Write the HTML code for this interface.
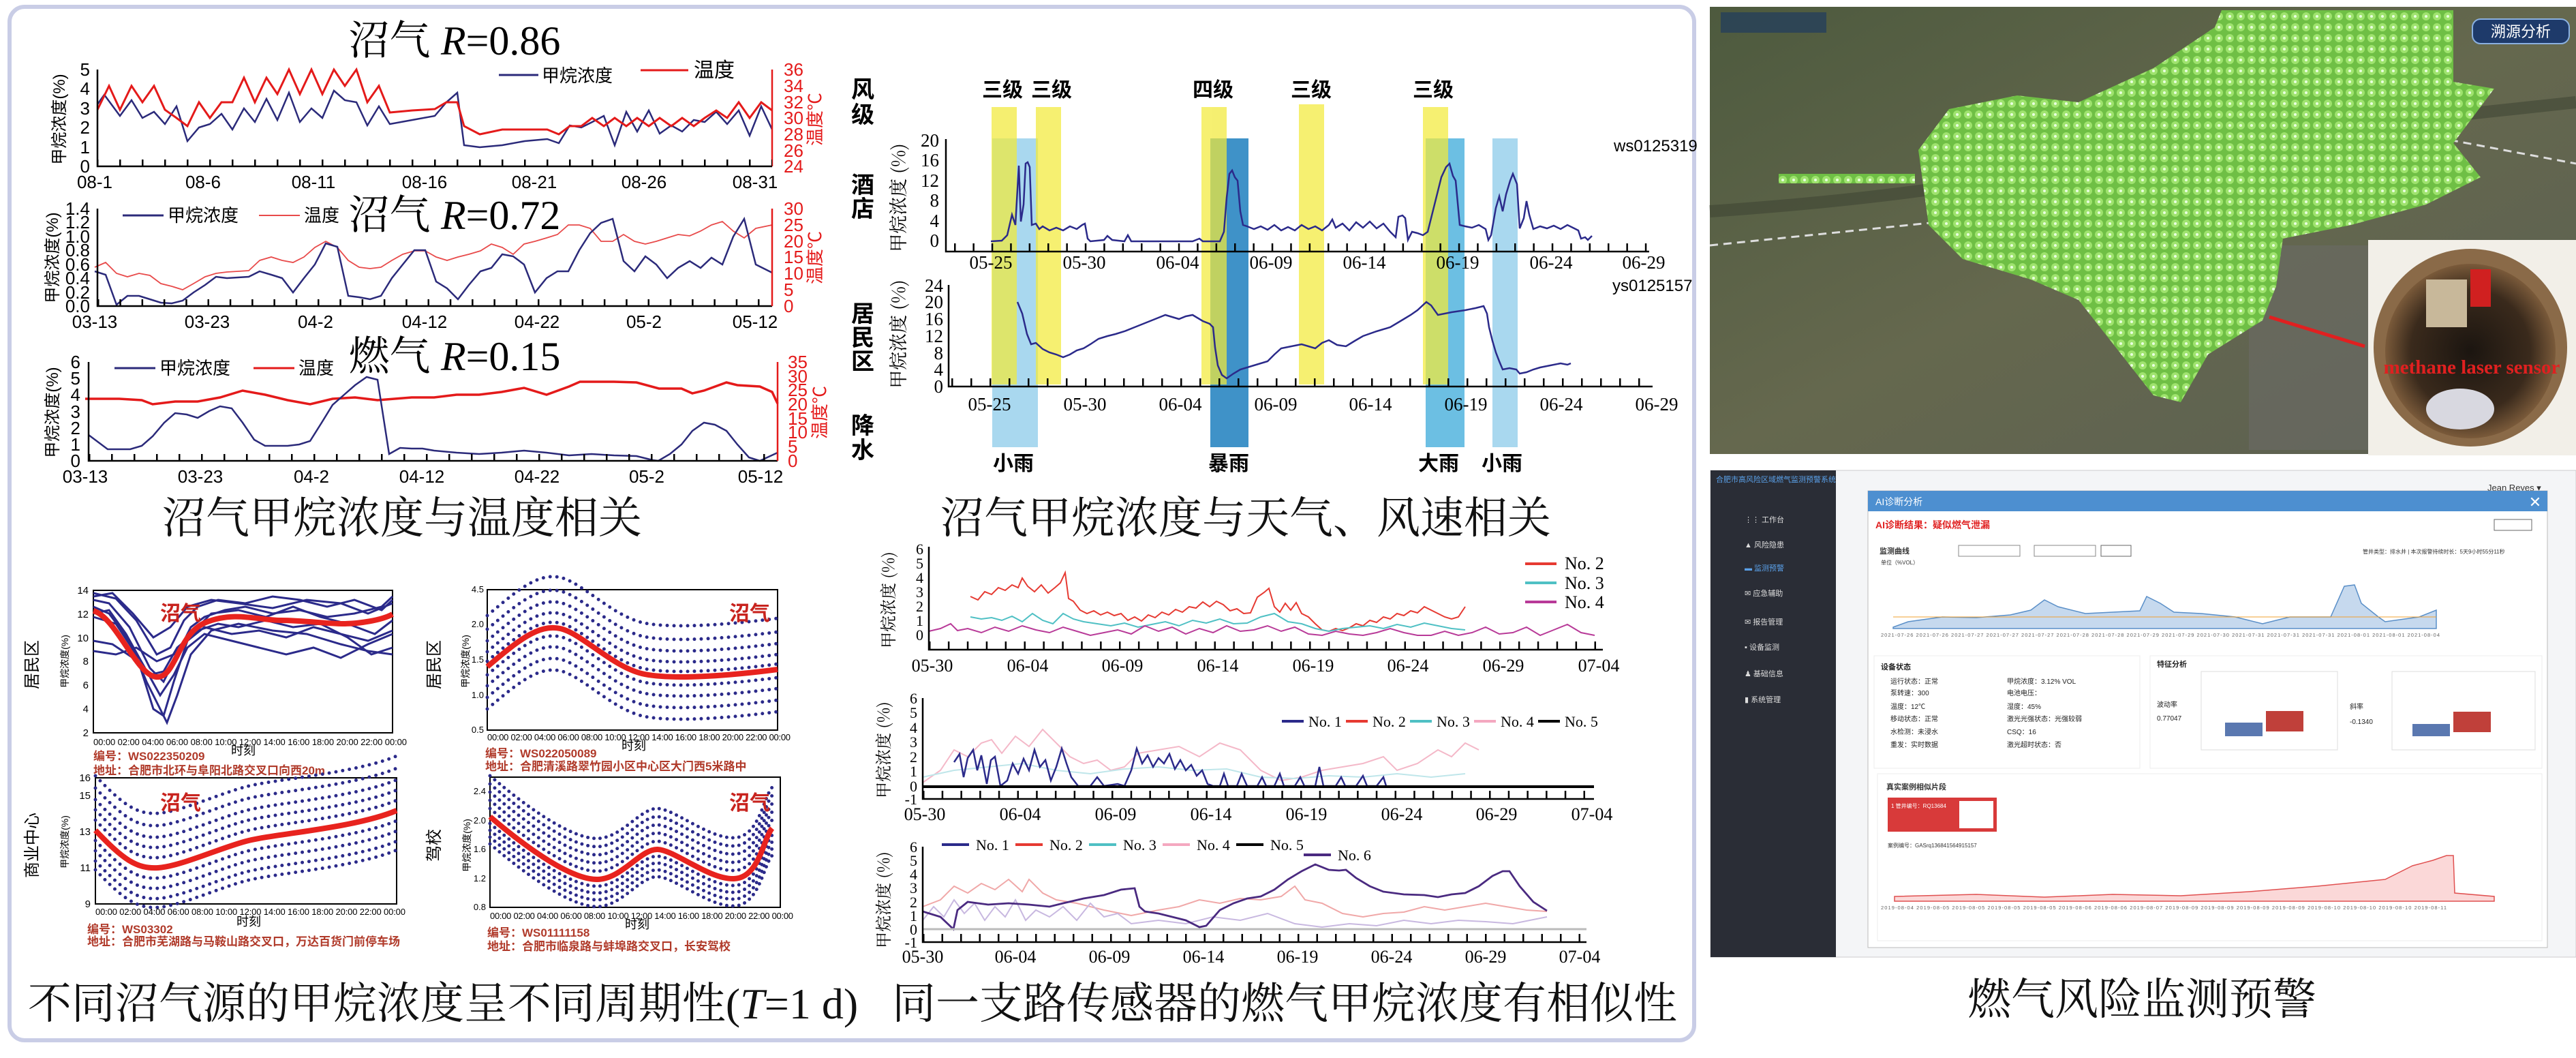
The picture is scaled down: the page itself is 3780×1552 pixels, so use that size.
<!DOCTYPE html>
<html><head><meta charset="utf-8"><style>
html,body{margin:0;padding:0;background:#fff;}
svg{display:block;}
.t{font-family:"Liberation Sans","Noto Sans CJK SC",sans-serif;}
.s{font-family:"Liberation Serif","Noto Serif CJK SC",serif;}
.cap{font-family:"Liberation Serif","Noto Serif CJK SC",serif;font-size:64px;fill:#111;}
</style></head><body>
<svg width="3780" height="1552" viewBox="0 0 3780 1552" xmlns="http://www.w3.org/2000/svg">
<defs>
<pattern id="dots" width="16" height="16" patternUnits="userSpaceOnUse">
<rect width="16" height="16" fill="#6fbf45"/><circle cx="8" cy="8" r="6" fill="#9fe36e"/><circle cx="8" cy="8" r="2" fill="#e8ffe0"/>
</pattern>
<linearGradient id="sat" x1="0" y1="0" x2="1" y2="1"><stop offset="0" stop-color="#4d5a3e"/><stop offset="0.5" stop-color="#65684e"/><stop offset="1" stop-color="#5b5f52"/></linearGradient>
<radialGradient id="hole" cx="0.5" cy="0.5" r="0.5"><stop offset="0" stop-color="#1b1510"/><stop offset="0.7" stop-color="#3a2a1c"/><stop offset="1" stop-color="#7a5a3a"/></radialGradient>
<path id="pB" d="M715,978 C760,940 790,915 822,922 S900,980 946,989 S1080,990 1141,982"/>
<path id="pC" d="M140,1218 C180,1260 200,1275 232,1273 S320,1245 361,1234 S520,1215 582,1189"/>
<path id="pD" d="M719,1198 C780,1250 840,1290 876,1290 S940,1245 965,1246 S1040,1290 1077,1289 S1120,1230 1133,1215"/>
</defs>

<!-- left panel -->
<rect x="14" y="10" width="2472" height="1516" rx="22" fill="#fff" stroke="#c9cde6" stroke-width="6"/>

<!-- ===== Chart 1 ===== -->
<text x="667" y="80" text-anchor="middle" class="s" font-size="60"><tspan font-family="Noto Serif CJK SC">沼气 </tspan><tspan font-style="italic">R</tspan>=0.86</text>
<g class="t" font-size="26">
<polyline fill="none" stroke="#2b2a7a" stroke-width="2.5" points="143,153 153,139 176,170 193,147 209,173 226,164 242,182 259,156 275,207 292,187 308,182 325,167 341,190 358,159 374,179 391,145 407,176 424,136 440,179 457,159 473,173 490,133 506,147 523,150 539,184 556,156 572,182 605,176 638,170 655,150 671,136 681,213 704,216 737,213 770,207 803,204 820,210 836,184 853,187 869,179 886,170 902,213 919,164 935,193 952,162 968,196 985,184 1001,193 1018,176 1034,179 1051,164 1067,182 1084,162 1100,199 1117,156 1133,190"/>
<polyline fill="none" stroke="#e41a1a" stroke-width="3" points="143,161 160,126 176,161 193,126 209,150 226,126 242,161 259,173 275,185 292,150 308,173 325,150 341,150 358,114 374,150 391,114 407,138 424,102 440,138 457,102 473,138 490,102 506,126 523,102 539,150 556,126 572,165 605,162 638,160 655,150 671,150 681,185 704,197 737,190 770,190 803,190 820,197 836,185 853,185 869,173 886,185 902,173 919,185 935,173 952,185 968,173 985,185 1001,173 1018,185 1034,173 1051,162 1067,173 1084,150 1100,173 1117,150 1133,162"/>
<path d="M143,102 V244 H1133" fill="none" stroke="#000" stroke-width="2.5"/>
<path d="M1133,102 V244" stroke="#e41a1a" stroke-width="2.5"/>
<line x1="143" y1="239" x2="1133" y2="239" stroke="#000" stroke-width="10" stroke-dasharray="2.5 30.5" stroke-dashoffset="-32"/>
<g text-anchor="end"><text x="132" y="253">0</text><text x="132" y="225">1</text><text x="132" y="196">2</text><text x="132" y="168">3</text><text x="132" y="139">4</text><text x="132" y="111">5</text></g>
<g fill="#e41a1a"><text x="1150" y="253">24</text><text x="1150" y="230">26</text><text x="1150" y="206">28</text><text x="1150" y="182">30</text><text x="1150" y="159">32</text><text x="1150" y="135">34</text><text x="1150" y="111">36</text>
<text transform="translate(1205,175) rotate(-90)" text-anchor="middle">温度℃</text></g>
<text transform="translate(95,175) rotate(-90)" text-anchor="middle" font-size="24">甲烷浓度(%)</text>
<g text-anchor="middle"><text x="139" y="276">08-1</text><text x="298" y="276">08-6</text><text x="460" y="276">08-11</text><text x="623" y="276">08-16</text><text x="784" y="276">08-21</text><text x="945" y="276">08-26</text><text x="1108" y="276">08-31</text></g>
<line x1="732" y1="110" x2="790" y2="110" stroke="#2b2a7a" stroke-width="3"/><text x="795" y="120">甲烷浓度</text>
<line x1="940" y1="103" x2="1010" y2="103" stroke="#e41a1a" stroke-width="3"/><text x="1018" y="113" font-size="30">温度</text>
</g>

<!-- ===== Chart 2 ===== -->
<text x="667" y="336" text-anchor="middle" class="s" font-size="60"><tspan font-family="Noto Serif CJK SC">沼气 </tspan><tspan font-style="italic">R</tspan>=0.72</text>
<g class="t" font-size="26">
<polyline fill="none" stroke="#e84a4a" stroke-width="1.8" points="139,392 155,385 171,401 187,406 204,401 220,404 236,416 252,420 268,425 284,416 301,406 317,401 333,399 365,397 381,382 398,377 414,382 430,385 446,377 462,363 478,354 495,363 511,382 527,392 543,394 559,392 575,382 591,373 608,368 624,368 640,377 656,382 672,377 688,373 705,368 721,358 737,363 753,373 769,358 785,354 802,349 818,344 834,330 850,330 866,335 882,354 899,354 915,344 931,354 947,358 963,354 979,349 995,344 1012,346 1028,339 1044,330 1060,325 1076,339 1092,349 1109,335 1133,330"/>
<polyline fill="none" stroke="#2b2a7a" stroke-width="2.5" points="139,398 155,403 171,447 187,434 204,434 220,439 236,444 252,445 268,441 284,429 301,418 317,406 333,408 365,406 381,398 398,403 414,408 430,429 446,408 462,388 478,357 495,362 511,434 527,436 543,439 559,434 575,408 591,388 608,367 624,367 640,413 656,423 672,439 688,418 705,398 721,393 737,373 753,376 769,388 785,429 802,408 818,398 834,398 850,367 866,342 882,327 899,321 915,383 931,398 947,376 963,388 979,408 995,393 1012,383 1028,393 1044,378 1060,388 1076,347 1092,321 1109,388 1133,400"/>
<path d="M143,306 V449 H1133" fill="none" stroke="#000" stroke-width="2.5"/>
<path d="M1133,306 V449" stroke="#e41a1a" stroke-width="2.5"/>
<line x1="143" y1="444" x2="1133" y2="444" stroke="#000" stroke-width="10" stroke-dasharray="2.5 29.8"/>
<g text-anchor="end"><text x="132" y="458">0.0</text><text x="132" y="438">0.2</text><text x="132" y="417">0.4</text><text x="132" y="397">0.6</text><text x="132" y="376">0.8</text><text x="132" y="356">1.0</text><text x="132" y="335">1.2</text><text x="132" y="315">1.4</text></g>
<g fill="#e41a1a"><text x="1150" y="458">0</text><text x="1150" y="434">5</text><text x="1150" y="410">10</text><text x="1150" y="386">15</text><text x="1150" y="363">20</text><text x="1150" y="339">25</text><text x="1150" y="315">30</text>
<text transform="translate(1205,378) rotate(-90)" text-anchor="middle">温度℃</text></g>
<text transform="translate(85,378) rotate(-90)" text-anchor="middle" font-size="24">甲烷浓度(%)</text>
<g text-anchor="middle"><text x="139" y="481">03-13</text><text x="304" y="481">03-23</text><text x="463" y="481">04-2</text><text x="623" y="481">04-12</text><text x="788" y="481">04-22</text><text x="945" y="481">05-2</text><text x="1108" y="481">05-12</text></g>
<line x1="180" y1="316" x2="240" y2="316" stroke="#2b2a7a" stroke-width="3"/><text x="246" y="325">甲烷浓度</text>
<line x1="380" y1="316" x2="440" y2="316" stroke="#e84a4a" stroke-width="2"/><text x="446" y="325">温度</text>
</g>

<!-- ===== Chart 3 ===== -->
<text x="667" y="543" text-anchor="middle" class="s" font-size="60"><tspan font-family="Noto Serif CJK SC">燃气 </tspan><tspan font-style="italic">R</tspan>=0.15</text>
<g class="t" font-size="26">
<polyline fill="none" stroke="#e41a1a" stroke-width="3.5" points="125,585 175,585 208,587 224,593 257,589 290,589 323,583 356,573 389,579 422,587 455,593 488,585 521,583 554,587 604,583 637,583 670,579 703,579 736,575 769,569 802,579 835,567 851,560 868,560 901,560 934,561 967,570 1000,570 1016,577 1033,573 1066,561 1082,565 1115,567 1133,575 1141,592"/>
<polyline fill="none" stroke="#2b2a7a" stroke-width="2.5" points="130,638 142,647 158,659 175,659 191,659 208,654 224,640 241,620 257,606 274,608 290,613 307,603 323,596 340,599 356,620 373,645 389,654 406,654 422,654 439,652 455,647 472,620 488,594 505,579 521,565 538,553 554,557 571,666 587,657 604,658 620,658 637,661 670,664 703,666 736,664 769,661 802,664 835,668 868,666 901,668 934,669 958,675 966,676 983,666 1000,652 1016,632 1033,620 1049,623 1066,632 1082,652 1099,671 1115,676 1141,664"/>
<path d="M130,531 V676 H1141" fill="none" stroke="#000" stroke-width="2.5"/>
<path d="M1141,531 V676" stroke="#e41a1a" stroke-width="2.5"/>
<line x1="130" y1="671" x2="1141" y2="671" stroke="#000" stroke-width="10" stroke-dasharray="2.5 30.5"/>
<g text-anchor="end"><text x="118" y="685">0</text><text x="118" y="661">1</text><text x="118" y="637">2</text><text x="118" y="613">3</text><text x="118" y="588">4</text><text x="118" y="564">5</text><text x="118" y="540">6</text></g>
<g fill="#e41a1a"><text x="1156" y="685">0</text><text x="1156" y="664">5</text><text x="1156" y="643">10</text><text x="1156" y="623">15</text><text x="1156" y="602">20</text><text x="1156" y="581">25</text><text x="1156" y="561">30</text><text x="1156" y="540">35</text>
<text transform="translate(1212,605) rotate(-90)" text-anchor="middle">温度℃</text></g>
<text transform="translate(85,605) rotate(-90)" text-anchor="middle" font-size="24">甲烷浓度(%)</text>
<g text-anchor="middle"><text x="125" y="708">03-13</text><text x="294" y="708">03-23</text><text x="457" y="708">04-2</text><text x="619" y="708">04-12</text><text x="788" y="708">04-22</text><text x="949" y="708">05-2</text><text x="1116" y="708">05-12</text></g>
<line x1="168" y1="540" x2="228" y2="540" stroke="#2b2a7a" stroke-width="3"/><text x="234" y="549">甲烷浓度</text>
<line x1="372" y1="540" x2="432" y2="540" stroke="#e41a1a" stroke-width="3"/><text x="438" y="549">温度</text>
</g>
<text x="590" y="782" text-anchor="middle" class="cap">沼气甲烷浓度与温度相关</text>

<!-- ===== Weather chart ===== -->
<g>
<rect x="1456" y="203" width="67" height="453" fill="#a9d8ef"/>
<rect x="1776" y="203" width="56" height="453" fill="#3f92c8"/>
<rect x="2092" y="203" width="57" height="453" fill="#6cbfe3"/>
<rect x="2190" y="203" width="37" height="453" fill="#a9d8ef"/>
<g fill="#f2ea3a" opacity="0.72">
<rect x="1455" y="157" width="37" height="407"/><rect x="1520" y="157" width="37" height="407"/><rect x="1763" y="157" width="37" height="407"/><rect x="1906" y="153" width="37" height="411"/><rect x="2088" y="157" width="37" height="407"/></g>
</g>
<g class="t" font-weight="bold" font-size="34">
<text x="1266" y="143" text-anchor="middle">风</text><text x="1266" y="180" text-anchor="middle">级</text>
<text x="1266" y="283" text-anchor="middle">酒</text><text x="1266" y="318" text-anchor="middle">店</text>
<text x="1266" y="472" text-anchor="middle">居</text><text x="1266" y="507" text-anchor="middle">民</text><text x="1266" y="542" text-anchor="middle">区</text>
<text x="1266" y="636" text-anchor="middle">降</text><text x="1266" y="672" text-anchor="middle">水</text>
<g font-size="30" text-anchor="middle"><text x="1471" y="142">三级</text><text x="1543" y="142">三级</text><text x="1780" y="142">四级</text><text x="1924" y="142">三级</text><text x="2103" y="142">三级</text>
<text x="1487" y="690">小雨</text><text x="1803" y="690">暴雨</text><text x="2111" y="690">大雨</text><text x="2204" y="690">小雨</text></g>
</g>
<g class="s" font-size="27">
<polyline fill="none" stroke="#2b2a8a" stroke-width="2.5" points="1454,354 1470,353 1478,345 1485,315 1490,330 1495,243 1498,325 1502,300 1505,240 1508,238 1511,245 1514,330 1520,328 1525,336 1530,332 1540,338 1550,334 1560,338 1570,332 1580,336 1588,330 1592,328 1596,350 1600,354 1620,352 1625,346 1632,352 1650,354 1655,345 1660,354 1700,354 1750,354 1760,350 1765,354 1790,354 1796,340 1800,290 1804,255 1808,250 1812,260 1816,265 1820,310 1824,330 1830,332 1840,336 1850,332 1860,337 1870,330 1880,338 1890,333 1900,338 1910,330 1920,336 1930,332 1940,338 1950,330 1955,322 1960,334 1970,328 1980,338 1990,326 2000,334 2010,325 2020,335 2030,328 2040,340 2048,348 2052,318 2058,316 2062,320 2066,352 2072,340 2080,342 2088,345 2095,340 2105,300 2115,260 2122,245 2127,240 2132,258 2136,265 2142,330 2150,332 2160,334 2170,330 2180,336 2184,352 2188,345 2195,305 2200,288 2205,310 2210,285 2216,265 2220,255 2226,270 2230,335 2236,320 2240,295 2244,315 2250,336 2260,332 2270,335 2280,331 2290,336 2300,330 2310,335 2316,338 2320,350 2326,348 2330,352 2336,346"/>
<path d="M1388,204 V369 H2420" fill="none" stroke="#000" stroke-width="2.5"/>
<line x1="1388" y1="363" x2="2420" y2="363" stroke="#000" stroke-width="12" stroke-dasharray="2.5 24.9" stroke-dashoffset="-12"/>
<g text-anchor="end"><text x="1378" y="362">0</text><text x="1378" y="333">4</text><text x="1378" y="303">8</text><text x="1378" y="274">12</text><text x="1378" y="244">16</text><text x="1378" y="215">20</text></g>
<text transform="translate(1328,290) rotate(-90)" text-anchor="middle" font-family="Noto Serif CJK SC">甲烷浓度 (%)</text>
<g text-anchor="middle"><text x="1454" y="394">05-25</text><text x="1591" y="394">05-30</text><text x="1728" y="394">06-04</text><text x="1865" y="394">06-09</text><text x="2002" y="394">06-14</text><text x="2139" y="394">06-19</text><text x="2276" y="394">06-24</text><text x="2412" y="394">06-29</text></g>
<text x="2368" y="222" class="t" font-size="24">ws0125319</text>

<polyline fill="none" stroke="#2b2a8a" stroke-width="2.5" points="1493,443 1500,460 1507,490 1513,505 1520,503 1530,512 1540,517 1550,520 1560,524 1570,520 1580,514 1590,511 1600,505 1612,497 1625,493 1637,490 1650,486 1665,480 1680,474 1695,468 1710,462 1720,465 1730,468 1740,464 1750,462 1765,471 1775,475 1780,480 1783,510 1787,536 1793,550 1800,555 1810,548 1820,542 1840,536 1860,530 1870,520 1880,511 1895,508 1910,505 1920,508 1930,511 1940,503 1950,499 1962,506 1975,508 1988,500 2000,493 2020,486 2040,480 2050,474 2060,468 2070,462 2080,455 2093,443 2100,448 2110,462 2130,458 2150,455 2165,452 2177,449 2182,460 2185,480 2190,500 2195,517 2200,530 2205,542 2215,540 2225,542 2230,548 2240,546 2250,542 2260,539 2275,536 2290,533 2300,535 2305,533"/>
<path d="M1392,418 V567 H2425" fill="none" stroke="#000" stroke-width="2.5"/>
<line x1="1392" y1="561" x2="2425" y2="561" stroke="#000" stroke-width="12" stroke-dasharray="2.5 25.5" stroke-dashoffset="-4"/>
<g text-anchor="end"><text x="1384" y="576">0</text><text x="1384" y="551">4</text><text x="1384" y="527">8</text><text x="1384" y="502">12</text><text x="1384" y="477">16</text><text x="1384" y="452">20</text><text x="1384" y="428">24</text></g>
<text transform="translate(1328,490) rotate(-90)" text-anchor="middle" font-family="Noto Serif CJK SC">甲烷浓度 (%)</text>
<g text-anchor="middle"><text x="1452" y="602">05-25</text><text x="1592" y="602">05-30</text><text x="1732" y="602">06-04</text><text x="1872" y="602">06-09</text><text x="2011" y="602">06-14</text><text x="2151" y="602">06-19</text><text x="2291" y="602">06-24</text><text x="2431" y="602">06-29</text></g>
<text x="2366" y="427" class="t" font-size="24">ys0125157</text>
</g>
<text x="1828" y="782" text-anchor="middle" class="cap">沼气甲烷浓度与天气、风速相关</text>

<!-- ===== Daily charts ===== -->
<g class="t">
<!-- A -->
<rect x="137" y="866" width="439" height="209" fill="none" stroke="#000" stroke-width="2"/>
<g fill="none" stroke="#2b2a8a" stroke-width="3">
<polyline points="137,880 160,885 190,920 220,980 240,1000 260,960 280,920 300,905 330,895 360,890 400,900 440,895 480,905 520,900 560,890 576,875"/>
<polyline points="137,905 170,915 200,960 225,1040 240,1050 255,1000 275,940 300,920 340,930 380,925 420,935 460,920 500,930 540,940 576,925"/>
<polyline points="137,940 165,945 195,965 220,990 240,985 260,950 290,925 320,915 350,920 390,910 430,920 470,915 510,935 545,960 576,950"/>
<polyline points="137,870 170,878 200,910 230,960 250,950 270,910 290,890 320,880 360,885 400,875 440,880 480,890 520,880 560,895 576,880"/>
<polyline points="137,900 160,895 185,930 210,975 235,1020 255,990 275,950 300,930 340,940 380,950 420,960 460,950 500,965 540,945 576,930"/>
<polyline points="137,955 170,960 200,950 230,970 255,960 280,930 310,900 350,895 390,905 430,890 470,905 510,915 550,930 576,910"/>
<polyline points="137,890 160,900 190,940 215,1000 230,1030 245,1060 260,1020 280,960 310,925 350,915 400,925 450,930 500,945 540,955 576,960"/>
<polyline points="137,875 165,870 195,900 225,935 250,920 275,890 310,880 350,885 400,892 450,880 500,885 540,900 576,885"/>
</g>
<path d="M137,896 C170,905 200,990 229,993 S260,930 302,913 S380,910 412,910 S480,915 503,915 S560,910 576,901" fill="none" stroke="#e8231e" stroke-width="8"/>
<text x="265" y="910" fill="#c8231e" font-size="30" font-weight="bold" text-anchor="middle">沼气</text>
<g font-size="15" text-anchor="end"><text x="130" y="1080">2</text><text x="130" y="1045">4</text><text x="130" y="1010">6</text><text x="130" y="975">8</text><text x="130" y="941">10</text><text x="130" y="906">12</text><text x="130" y="871">14</text></g>
<text x="137" y="1093" font-size="13" textLength="460">00:00 02:00 04:00 06:00 08:00 10:00 12:00 14:00 16:00 18:00 20:00 22:00 00:00</text>
<text x="357" y="1107" font-size="18" text-anchor="middle">时刻</text>
<text transform="translate(100,970) rotate(-90)" font-size="14" text-anchor="middle">甲烷浓度(%)</text>
<text transform="translate(55,975) rotate(-90)" font-size="24" text-anchor="middle">居民区</text>
<g fill="#b03a2a" font-size="17" font-weight="bold"><text x="137" y="1115">编号：WS022350209</text><text x="137" y="1136">地址：合肥市北环与阜阳北路交叉口向西20m</text></g>

<!-- B -->
<rect x="715" y="865" width="426" height="206" fill="none" stroke="#000" stroke-width="2"/>
<g fill="none" stroke="#2b2a8a" stroke-width="5" stroke-linecap="round" stroke-dasharray="0 10">
<use href="#pB" transform="translate(0,-75)"/><use href="#pB" transform="translate(0,-55)"/><use href="#pB" transform="translate(0,-38)"/><use href="#pB" transform="translate(0,-22)"/><use href="#pB" transform="translate(0,-8)"/><use href="#pB" transform="translate(0,12)"/><use href="#pB" transform="translate(0,28)"/><use href="#pB" transform="translate(0,45)"/><use href="#pB" transform="translate(0,62)"/>
</g>
<use href="#pB" fill="none" stroke="#e8231e" stroke-width="8"/>
<text x="1100" y="910" fill="#c8231e" font-size="30" font-weight="bold" text-anchor="middle">沼气</text>
<g font-size="13" text-anchor="end"><text x="710" y="1075">0.5</text><text x="710" y="1024">1.0</text><text x="710" y="972">1.5</text><text x="710" y="920">2.0</text><text x="710" y="869">4.5</text></g>
<text x="715" y="1086" font-size="13" textLength="445">00:00 02:00 04:00 06:00 08:00 10:00 12:00 14:00 16:00 18:00 20:00 22:00 00:00</text>
<text x="930" y="1100" font-size="18" text-anchor="middle">时刻</text>
<text transform="translate(688,970) rotate(-90)" font-size="14" text-anchor="middle">甲烷浓度(%)</text>
<text transform="translate(645,975) rotate(-90)" font-size="24" text-anchor="middle">居民区</text>
<g fill="#b03a2a" font-size="17" font-weight="bold"><text x="712" y="1111">编号：WS022050089</text><text x="712" y="1130">地址：合肥清溪路翠竹园小区中心区大门西5米路中</text></g>

<!-- C -->
<rect x="140" y="1141" width="442" height="185" fill="none" stroke="#000" stroke-width="2"/>
<g fill="none" stroke="#2b2a8a" stroke-width="5" stroke-linecap="round" stroke-dasharray="0 10">
<use href="#pC" transform="translate(0,-80)"/><use href="#pC" transform="translate(0,-62)"/><use href="#pC" transform="translate(0,-45)"/><use href="#pC" transform="translate(0,-30)"/><use href="#pC" transform="translate(0,-15)"/><use href="#pC" transform="translate(0,15)"/><use href="#pC" transform="translate(0,30)"/><use href="#pC" transform="translate(0,45)"/><use href="#pC" transform="translate(0,58)"/>
</g>
<use href="#pC" fill="none" stroke="#e8231e" stroke-width="8"/>
<text x="265" y="1188" fill="#c8231e" font-size="30" font-weight="bold" text-anchor="middle">沼气</text>
<g font-size="15" text-anchor="end"><text x="133" y="1331">9</text><text x="133" y="1278">11</text><text x="133" y="1225">13</text><text x="133" y="1172">15</text><text x="133" y="1146">16</text></g>
<text x="140" y="1342" font-size="13" textLength="455">00:00 02:00 04:00 06:00 08:00 10:00 12:00 14:00 16:00 18:00 20:00 22:00 00:00</text>
<text x="365" y="1358" font-size="18" text-anchor="middle">时刻</text>
<text transform="translate(100,1235) rotate(-90)" font-size="14" text-anchor="middle">甲烷浓度(%)</text>
<text transform="translate(55,1240) rotate(-90)" font-size="24" text-anchor="middle">商业中心</text>
<g fill="#b03a2a" font-size="17" font-weight="bold"><text x="128" y="1369">编号：WS03302</text><text x="128" y="1387">地址：合肥市芜湖路与马鞍山路交叉口，万达百货门前停车场</text></g>

<!-- D -->
<rect x="719" y="1140" width="426" height="191" fill="none" stroke="#000" stroke-width="2"/>
<g fill="none" stroke="#2b2a8a" stroke-width="5" stroke-linecap="round" stroke-dasharray="0 9">
<use href="#pD" transform="translate(0,-60)"/><use href="#pD" transform="translate(0,-48)"/><use href="#pD" transform="translate(0,-36)"/><use href="#pD" transform="translate(0,-24)"/><use href="#pD" transform="translate(0,-12)"/><use href="#pD" transform="translate(0,10)"/><use href="#pD" transform="translate(0,20)"/><use href="#pD" transform="translate(0,30)"/><use href="#pD" transform="translate(0,40)"/>
</g>
<use href="#pD" fill="none" stroke="#e8231e" stroke-width="8"/>
<text x="1100" y="1188" fill="#c8231e" font-size="30" font-weight="bold" text-anchor="middle">沼气</text>
<g font-size="13" text-anchor="end"><text x="713" y="1335">0.8</text><text x="713" y="1293">1.2</text><text x="713" y="1250">1.6</text><text x="713" y="1208">2.0</text><text x="713" y="1165">2.4</text></g>
<text x="719" y="1348" font-size="13" textLength="445">00:00 02:00 04:00 06:00 08:00 10:00 12:00 14:00 16:00 18:00 20:00 22:00 00:00</text>
<text x="935" y="1362" font-size="18" text-anchor="middle">时刻</text>
<text transform="translate(690,1240) rotate(-90)" font-size="14" text-anchor="middle">甲烷浓度(%)</text>
<text transform="translate(645,1240) rotate(-90)" font-size="24" text-anchor="middle">驾校</text>
<g fill="#b03a2a" font-size="17" font-weight="bold"><text x="715" y="1374">编号：WS01111158</text><text x="715" y="1394">地址：合肥市临泉路与蚌埠路交叉口，长安驾校</text></g>
</g>

<!-- ===== Similarity charts ===== -->
<g class="s" font-size="26">
<!-- E -->
<polyline fill="none" stroke="#e63a32" stroke-width="2" points="1424,875 1435,880 1445,868 1455,872 1465,862 1475,866 1485,858 1494,862 1500,848 1508,860 1518,868 1528,858 1538,870 1548,862 1556,855 1563,840 1568,878 1575,882 1585,895 1595,900 1605,896 1615,902 1625,898 1635,903 1645,900 1655,910 1665,905 1675,911 1685,902 1695,906 1705,898 1715,902 1725,894 1735,898 1745,890 1755,892 1765,883 1775,890 1785,882 1795,887 1805,896 1815,893 1825,900 1835,899 1845,876 1855,869 1862,863 1870,890 1878,898 1886,885 1894,895 1902,884 1910,900 1920,905 1930,915 1940,924 1950,926 1960,922 1970,925 1980,921 1990,915 2000,918 2010,910 2020,913 2030,905 2040,908 2050,900 2060,903 2070,896 2080,899 2090,890 2100,895 2110,900 2120,905 2130,908 2140,905 2150,890"/>
<polyline fill="none" stroke="#4fc0c4" stroke-width="2" points="1424,905 1440,908 1455,906 1470,910 1485,904 1500,912 1515,900 1530,910 1545,915 1560,900 1575,908 1590,912 1610,915 1630,918 1650,914 1670,920 1690,916 1710,912 1730,918 1750,910 1770,914 1790,908 1810,915 1830,914 1850,905 1870,900 1890,912 1910,915 1930,922 1950,926 1970,922 1990,920 2010,918 2030,922 2050,916 2070,920 2090,914 2110,918 2130,922 2150,924"/>
<polyline fill="none" stroke="#b83a98" stroke-width="2" points="1363,926 1380,922 1395,915 1405,925 1420,922 1440,928 1460,920 1480,926 1500,918 1520,924 1540,928 1560,920 1580,926 1600,932 1620,928 1640,924 1660,930 1680,918 1700,926 1720,920 1740,930 1760,922 1780,928 1800,918 1820,926 1840,924 1860,918 1880,926 1900,920 1920,930 1940,932 1960,926 1980,930 2000,932 2020,928 2040,922 2060,928 2080,932 2100,932 2120,926 2140,932 2160,928 2180,920 2200,930 2220,928 2240,920 2260,932 2280,924 2300,916 2320,928 2340,932"/>
<path d="M1363,802 V953 H2352" fill="none" stroke="#000" stroke-width="2.5"/>
<line x1="1363" y1="947" x2="2352" y2="947" stroke="#000" stroke-width="12" stroke-dasharray="2.5 25.4"/>
<g text-anchor="end" font-size="22"><text x="1355" y="939">0</text><text x="1355" y="918">1</text><text x="1355" y="897">2</text><text x="1355" y="876">3</text><text x="1355" y="855">4</text><text x="1355" y="834">5</text><text x="1355" y="813">6</text></g>
<text transform="translate(1312,880) rotate(-90)" text-anchor="middle" font-size="24" font-family="Noto Serif CJK SC">甲烷浓度 (%)</text>
<g text-anchor="middle"><text x="1368" y="985">05-30</text><text x="1508" y="985">06-04</text><text x="1647" y="985">06-09</text><text x="1787" y="985">06-14</text><text x="1927" y="985">06-19</text><text x="2066" y="985">06-24</text><text x="2206" y="985">06-29</text><text x="2346" y="985">07-04</text></g>
<line x1="2238" y1="827" x2="2284" y2="827" stroke="#e63a32" stroke-width="4"/><text x="2296" y="835">No. 2</text>
<line x1="2238" y1="855" x2="2284" y2="855" stroke="#4fc0c4" stroke-width="4"/><text x="2296" y="864">No. 3</text>
<line x1="2238" y1="883" x2="2284" y2="883" stroke="#b83a98" stroke-width="4"/><text x="2296" y="892">No. 4</text>

<!-- F -->
<polyline fill="none" stroke="#f4b8c8" stroke-width="2" points="1354,1148 1380,1130 1400,1100 1420,1110 1440,1090 1455,1085 1470,1105 1490,1080 1510,1095 1530,1070 1550,1090 1570,1110 1590,1120 1610,1115 1630,1130 1650,1125 1670,1105 1700,1100 1730,1095 1760,1110 1790,1090 1820,1100 1850,1130 1880,1145 1910,1140 1940,1130 1970,1125 2000,1120 2030,1110 2050,1130 2080,1120 2110,1100 2130,1110 2150,1090 2170,1100"/>
<polyline fill="none" stroke="#bfe6ea" stroke-width="2" points="1354,1140 1400,1130 1450,1125 1500,1120 1550,1130 1600,1135 1650,1128 1700,1125 1750,1130 1800,1128 1850,1140 1900,1142 1950,1138 2000,1140 2050,1135 2100,1140 2150,1135"/>
<polyline fill="none" stroke="#2b2a8a" stroke-width="2.5" points="1400,1118 1408,1106 1414,1140 1420,1112 1428,1100 1434,1130 1440,1108 1448,1150 1454,1115 1460,1110 1468,1153 1478,1145 1486,1120 1494,1135 1502,1113 1510,1130 1518,1100 1526,1125 1534,1115 1542,1145 1550,1125 1558,1098 1565,1120 1572,1140 1582,1153 1600,1153 1610,1140 1620,1153 1640,1150 1650,1153 1660,1130 1668,1098 1676,1120 1684,1108 1692,1125 1700,1112 1708,1120 1716,1106 1724,1128 1732,1115 1740,1130 1748,1122 1756,1138 1764,1130 1772,1150 1780,1153 1790,1153 1796,1135 1802,1153 1815,1153 1822,1135 1830,1153 1845,1153 1852,1140 1858,1153 1870,1153 1878,1135 1884,1153 1900,1153 1908,1140 1914,1153 1930,1153 1936,1125 1942,1153 1960,1153 1968,1140 1974,1153 1990,1153 2000,1138 2006,1153 2020,1153 2030,1140 2034,1153"/>
<line x1="1354" y1="1154" x2="2339" y2="1154" stroke="#000" stroke-width="4"/>
<path d="M1354,1024 V1172 H2339" fill="none" stroke="#000" stroke-width="2.5"/>
<line x1="1354" y1="1166" x2="2339" y2="1166" stroke="#000" stroke-width="12" stroke-dasharray="2.5 25.2"/>
<g text-anchor="end" font-size="22"><text x="1346" y="1180">-1</text><text x="1346" y="1161">0</text><text x="1346" y="1139">1</text><text x="1346" y="1118">2</text><text x="1346" y="1096">3</text><text x="1346" y="1075">4</text><text x="1346" y="1053">5</text><text x="1346" y="1032">6</text></g>
<text transform="translate(1305,1100) rotate(-90)" text-anchor="middle" font-size="24" font-family="Noto Serif CJK SC">甲烷浓度 (%)</text>
<g text-anchor="middle"><text x="1357" y="1203">05-30</text><text x="1497" y="1203">06-04</text><text x="1637" y="1203">06-09</text><text x="1777" y="1203">06-14</text><text x="1917" y="1203">06-19</text><text x="2057" y="1203">06-24</text><text x="2196" y="1203">06-29</text><text x="2336" y="1203">07-04</text></g>
<g font-size="22"><line x1="1881" y1="1058" x2="1913" y2="1058" stroke="#2b2a8a" stroke-width="4"/><text x="1920" y="1066">No. 1</text>
<line x1="1975" y1="1058" x2="2007" y2="1058" stroke="#e63a32" stroke-width="4"/><text x="2014" y="1066">No. 2</text>
<line x1="2069" y1="1058" x2="2101" y2="1058" stroke="#4fc0c4" stroke-width="4"/><text x="2108" y="1066">No. 3</text>
<line x1="2163" y1="1058" x2="2195" y2="1058" stroke="#f4a8c0" stroke-width="4"/><text x="2202" y="1066">No. 4</text>
<line x1="2257" y1="1058" x2="2289" y2="1058" stroke="#000" stroke-width="4"/><text x="2296" y="1066">No. 5</text></g>

<!-- G -->
<polyline fill="none" stroke="#f0a8a8" stroke-width="2" points="1354,1330 1380,1320 1400,1300 1420,1310 1440,1296 1460,1305 1480,1290 1500,1308 1510,1290 1530,1310 1550,1320 1580,1325 1620,1335 1660,1343 1700,1335 1730,1330 1760,1320 1790,1325 1820,1318 1850,1320 1880,1315 1900,1300 1915,1320 1940,1325 1970,1340 2000,1345 2030,1340 2060,1338 2090,1330 2120,1335 2150,1330 2180,1325 2210,1330 2240,1335 2270,1337"/>
<polyline fill="none" stroke="#c8b8e0" stroke-width="2" points="1354,1350 1370,1330 1385,1345 1400,1320 1415,1340 1430,1325 1445,1350 1460,1330 1475,1345 1490,1320 1505,1350 1520,1335 1540,1345 1560,1330 1580,1350 1600,1325 1620,1345 1640,1340 1660,1355 1700,1350 1740,1355 1780,1345 1820,1350 1860,1340 1900,1355 1940,1360 1980,1355 2020,1358 2060,1350 2100,1355 2140,1350 2180,1352 2220,1355 2270,1345"/>
<polyline fill="none" stroke="#4a2a80" stroke-width="2.8" points="1354,1337 1380,1345 1399,1363 1405,1335 1420,1323 1450,1327 1480,1325 1510,1327 1540,1330 1560,1325 1590,1318 1620,1313 1645,1305 1665,1303 1672,1330 1680,1337 1700,1340 1720,1345 1740,1350 1760,1360 1770,1358 1790,1335 1810,1325 1830,1318 1850,1315 1870,1305 1890,1290 1910,1278 1930,1268 1950,1276 1965,1277 1975,1276 1990,1288 2010,1300 2030,1308 2060,1312 2090,1313 2110,1316 2130,1312 2150,1310 2170,1300 2190,1285 2205,1278 2215,1278 2230,1300 2250,1323 2270,1336"/>
<line x1="1354" y1="1363" x2="2328" y2="1363" stroke="#bbb" stroke-width="3"/>
<path d="M1354,1242 V1382 H2328" fill="none" stroke="#000" stroke-width="2.5"/>
<line x1="1354" y1="1376" x2="2328" y2="1376" stroke="#000" stroke-width="12" stroke-dasharray="2.5 25"/>
<g text-anchor="end" font-size="22"><text x="1346" y="1390">-1</text><text x="1346" y="1371">0</text><text x="1346" y="1351">1</text><text x="1346" y="1331">2</text><text x="1346" y="1310">3</text><text x="1346" y="1290">4</text><text x="1346" y="1270">5</text><text x="1346" y="1250">6</text></g>
<text transform="translate(1305,1320) rotate(-90)" text-anchor="middle" font-size="24" font-family="Noto Serif CJK SC">甲烷浓度 (%)</text>
<g text-anchor="middle"><text x="1354" y="1412">05-30</text><text x="1490" y="1412">06-04</text><text x="1628" y="1412">06-09</text><text x="1766" y="1412">06-14</text><text x="1904" y="1412">06-19</text><text x="2042" y="1412">06-24</text><text x="2180" y="1412">06-29</text><text x="2318" y="1412">07-04</text></g>
<g font-size="22"><line x1="1382" y1="1239" x2="1422" y2="1239" stroke="#2b2a8a" stroke-width="4"/><text x="1432" y="1247">No. 1</text>
<line x1="1490" y1="1239" x2="1530" y2="1239" stroke="#e63a32" stroke-width="4"/><text x="1540" y="1247">No. 2</text>
<line x1="1598" y1="1239" x2="1638" y2="1239" stroke="#4fc0c4" stroke-width="4"/><text x="1648" y="1247">No. 3</text>
<line x1="1706" y1="1239" x2="1746" y2="1239" stroke="#f4a8c0" stroke-width="4"/><text x="1756" y="1247">No. 4</text>
<line x1="1814" y1="1239" x2="1854" y2="1239" stroke="#000" stroke-width="4"/><text x="1864" y="1247">No. 5</text>
<line x1="1913" y1="1254" x2="1953" y2="1254" stroke="#4a2a80" stroke-width="4"/><text x="1963" y="1262">No. 6</text></g>
</g>
<text x="650" y="1494" text-anchor="middle" class="cap">不同沼气源的甲烷浓度呈不同周期性(<tspan font-style="italic">T</tspan>=1 d)</text>
<text x="1885" y="1494" text-anchor="middle" class="cap">同一支路传感器的燃气甲烷浓度有相似性</text>

<!-- ===== Map ===== -->
<rect x="2509" y="10" width="1271" height="656" fill="url(#sat)"/>
<path d="M2509,310 Q2800,290 3000,250 T3500,180 L3780,150" stroke="#3a4030" stroke-width="18" fill="none" opacity="0.5"/>
<path d="M2509,360 L2900,320" stroke="#ddd" stroke-width="3" stroke-dasharray="12 8" fill="none"/>
<path d="M3300,150 L3780,240" stroke="#ddd" stroke-width="3" stroke-dasharray="12 8" fill="none"/>
<rect x="3300" y="360" width="200" height="300" fill="#6a6a66" opacity="0.6"/>
<polygon fill="url(#dots)" points="3260,15 3600,15 3600,120 3660,130 3600,210 3640,260 3560,300 3450,330 3350,350 3340,420 3320,470 3240,520 3200,590 3160,580 3050,440 2980,410 2880,380 2830,330 2815,220 2860,160 2960,140 3050,150 3160,100 3250,40"/>
<rect x="2610" y="255" width="200" height="14" fill="url(#dots)"/>
<rect x="2525" y="18" width="155" height="30" fill="#26405a" opacity="0.8"/>
<rect x="3628" y="28" width="142" height="36" rx="12" fill="#1e3a6a" stroke="#8ab0e0" stroke-width="2"/>
<text x="3699" y="54" text-anchor="middle" class="t" font-size="22" fill="#fff">溯源分析</text>
<line x1="3330" y1="465" x2="3470" y2="508" stroke="#e02020" stroke-width="5"/>
<rect x="3475" y="352" width="305" height="316" fill="#f2efe8"/>
<ellipse cx="3625" cy="510" rx="142" ry="145" fill="#8a6a48"/>
<ellipse cx="3625" cy="515" rx="125" ry="128" fill="url(#hole)"/>
<rect x="3560" y="410" width="60" height="70" fill="#c8b89a"/>
<rect x="3625" y="395" width="30" height="55" fill="#d02020"/>
<ellipse cx="3610" cy="600" rx="50" ry="30" fill="#d8d8e0"/>
<text x="3627" y="548" text-anchor="middle" class="s" font-size="29" font-weight="bold" fill="#e02020">methane laser sensor</text>

<!-- ===== Dashboard ===== -->
<rect x="2510" y="690" width="1270" height="714" fill="#f4f5f7" stroke="#ccc"/>
<rect x="2510" y="690" width="184" height="714" fill="#2a2d36"/>
<text x="2518" y="707" class="t" font-size="11" fill="#5aa0e8">合肥市高风险区域燃气监测预警系统</text>
<g class="t" font-size="11" fill="#ddd">
<text x="2560" y="766">⋮⋮ 工作台</text><text x="2560" y="803">▲ 风险隐患</text><text x="2560" y="837" fill="#5aa0e8">▬ 监测预警</text><text x="2560" y="874">✉ 应急辅助</text><text x="2560" y="916">✉ 报告管理</text><text x="2560" y="953">▪ 设备监测</text><text x="2560" y="992">♟ 基础信息</text><text x="2560" y="1030">▮ 系统管理</text></g>
<text x="3650" y="720" class="t" font-size="13" fill="#333">Jean Reyes ▾</text>
<rect x="2741" y="720" width="997" height="670" fill="#fff" stroke="#bbb"/>
<rect x="2741" y="720" width="997" height="30" fill="#4d8fd0"/>
<text x="2752" y="741" class="t" font-size="14" fill="#fff">AI诊断分析</text>
<text x="3720" y="744" class="t" font-size="22" fill="#fff" text-anchor="middle">✕</text>
<text x="2752" y="775" class="t" font-size="14" fill="#e02020" font-weight="bold">AI诊断结果：疑似燃气泄漏</text>
<rect x="3660" y="762" width="55" height="16" fill="#fff" stroke="#666"/>
<g class="t" font-size="11" fill="#333"><text x="2758" y="812" font-weight="bold">监测曲线</text><text x="2760" y="828" font-size="8">单位（%VOL）</text>
<rect x="2874" y="800" width="90" height="16" fill="#fff" stroke="#888"/><rect x="2985" y="800" width="90" height="16" fill="#fff" stroke="#888"/><rect x="3083" y="800" width="44" height="16" fill="#fff" stroke="#666"/>
<text x="3467" y="812" font-size="8">管井类型：排水井 | 本次报警持续时长：5天9小时55分11秒</text></g>
<path d="M2778,920 L2800,912 L2850,905 L2900,906 L2950,902 L2980,895 L3000,880 L3020,890 L3060,900 L3100,898 L3140,896 L3150,875 L3170,885 L3190,898 L3230,900 L3280,905 L3300,910 L3320,915 L3360,905 L3420,905 L3440,860 L3455,858 L3465,885 L3490,905 L3500,912 L3550,905 L3575,895 V922 H2778 Z" fill="#c6d9ee" stroke="#5a8fc8" stroke-width="1.5"/>
<line x1="2778" y1="905" x2="3575" y2="905" stroke="#f0a030" stroke-width="1"/>
<g class="t" font-size="7.5" fill="#666"><text x="2760" y="934" textLength="820">2021-07-26  2021-07-26  2021-07-27  2021-07-27  2021-07-27  2021-07-28  2021-07-28  2021-07-29  2021-07-29  2021-07-30  2021-07-31  2021-07-31  2021-07-31  2021-08-01  2021-08-01  2021-08-04</text></g>
<rect x="2750" y="962" width="390" height="165" fill="#fff" stroke="#eee"/>
<rect x="3155" y="962" width="575" height="165" fill="#fff" stroke="#eee"/>
<g class="t" font-size="10" fill="#222"><text x="2760" y="982" font-weight="bold" font-size="11">设备状态</text>
<text x="2774" y="1003">运行状态：正常</text><text x="2774" y="1020">泵转速：300</text><text x="2774" y="1040">温度：12℃</text><text x="2774" y="1058">移动状态：正常</text><text x="2774" y="1077">水检测：未浸水</text><text x="2774" y="1096">重发：实时数据</text>
<text x="2945" y="1003">甲烷浓度：3.12% VOL</text><text x="2945" y="1020">电池电压：</text><text x="2945" y="1040">湿度：45%</text><text x="2945" y="1058">激光光强状态：光强较弱</text><text x="2945" y="1077">CSQ：16</text><text x="2945" y="1096">激光超时状态：否</text>
<text x="3165" y="978" font-weight="bold" font-size="11">特征分析</text><text x="3165" y="1037">波动率</text><text x="3165" y="1057">0.77047</text><text x="3448" y="1040">斜率</text><text x="3448" y="1062">-0.1340</text></g>
<rect x="3230" y="985" width="200" height="115" fill="#fff" stroke="#ddd"/><rect x="3510" y="985" width="210" height="115" fill="#fff" stroke="#ddd"/>
<rect x="3265" y="1060" width="55" height="20" fill="#5a78b0"/><rect x="3325" y="1043" width="55" height="30" fill="#c0403a"/>
<rect x="3540" y="1062" width="55" height="18" fill="#5a78b0"/><rect x="3600" y="1044" width="55" height="30" fill="#c0403a"/>
<rect x="2755" y="1135" width="975" height="245" fill="#fff" stroke="#eee"/>
<text x="2768" y="1158" class="t" font-size="11" font-weight="bold" fill="#333">真实案例相似片段</text>
<rect x="2770" y="1170" width="160" height="50" fill="#d83a3a"/>
<text x="2775" y="1185" class="t" font-size="8" fill="#fff">1 管井编号：RQ13684</text>
<rect x="2875" y="1175" width="50" height="40" fill="#fff"/>
<text x="2770" y="1243" class="t" font-size="8" fill="#333">案例编号：GASrq136841564915157</text>
<path d="M2780,1315 L2900,1312 L3000,1316 L3100,1312 L3200,1314 L3300,1308 L3400,1300 L3500,1290 L3540,1270 L3570,1262 L3590,1255 L3600,1255 L3602,1310 L3660,1315 V1322 H2780 Z" fill="#fbd8d8" stroke="#e05050" stroke-width="1.5"/>
<g class="t" font-size="7.5" fill="#666"><text x="2760" y="1334" textLength="830">2019-08-04  2019-08-05  2019-08-05  2019-08-05  2019-08-05  2019-08-06  2019-08-06  2019-08-07  2019-08-09  2019-08-09  2019-08-09  2019-08-09  2019-08-10  2019-08-10  2019-08-10  2019-08-11</text></g>
<text x="3143" y="1488" text-anchor="middle" class="cap">燃气风险监测预警</text>
</svg>
</body></html>
